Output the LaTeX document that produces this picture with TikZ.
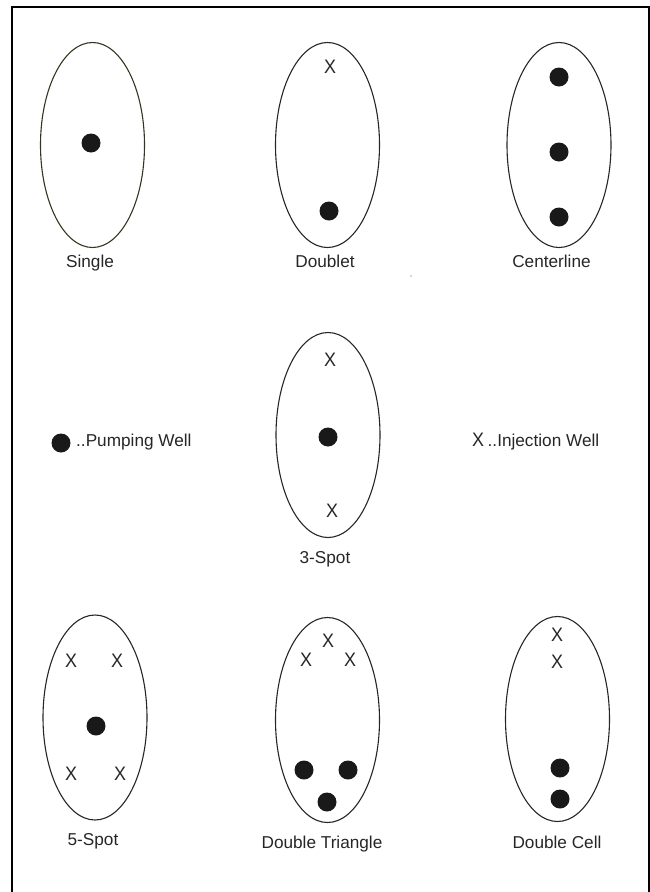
\documentclass[tikz,border=0pt]{standalone}
\usepackage{fontspec}
\setmainfont{Liberation Sans}
\newfontfamily\xmarkfont[FakeStretch=0.92]{Liberation Sans}
\usetikzlibrary{shapes.geometric}
\begin{document}
\begin{tikzpicture}[x=1pt,y=-1pt,
  field/.style={draw=black!85, line width=1.1pt, ellipse, minimum width=104pt, minimum height=205pt, inner sep=0pt},
  pump/.style={circle, fill=black!90, minimum size=19pt, inner sep=0pt},
  inj/.style={font=\xmarkfont\fontsize{19.5}{21}\selectfont, inner sep=0pt, text=black!85},
  lbl/.style={font=\fontsize{17.2}{19}\selectfont, inner sep=0pt, anchor=base, text=black!85}]
\useasboundingbox (0,0) rectangle (650,892);
\draw[line width=2pt] (12,892) -- (12,7) -- (649,7) -- (649,892);

% Row 1
\node[field, draw={rgb,255:red,55;green,52;blue,30}] (e1) at (92.5,145) {};
\node[pump] (s1) at (91,143) {};
\node[lbl] (l1) at (90,267) {Single};

\node[field] (e2) at (327.5,145) {};
\node[inj] (d1) at (330,67) {X};
\node[pump] (d2) at (329,211) {};
\node[lbl] (l2) at (325,267) {Doublet};

\node[field] (e3) at (559,145) {};
\node[pump] (c1) at (559,77) {};
\node[pump] (c2) at (559,152) {};
\node[pump] (c3) at (559,217) {};
\node[lbl] (l3) at (551.5,267) {Centerline};
\fill[black!70] (411,276) circle (0.7);

% Row 2
\node[pump] (kp) at (61,443) {};
\node[lbl, anchor=base west] (kpt) at (76,446) {..Pumping Well};
\node[inj] (kx) at (478,440) {X};
\node[lbl, anchor=base west] (kxt) at (487.5,446) {..Injection Well};

\node[field] (e4) at (328,435) {};
\node[inj] (t1) at (330,360) {X};
\node[pump] (t2) at (328,437) {};
\node[inj] (t3) at (332,511) {X};
\node[lbl] (l4) at (325,563) {3-Spot};

% Row 3
\node[field] (e5) at (95,717.5) {};
\node[inj] (f1) at (71,661) {X};
\node[inj] (f2) at (117,661) {X};
\node[pump] (f3) at (96,726) {};
\node[inj] (f4) at (71,774) {X};
\node[inj] (f5) at (120,774) {X};
\node[lbl] (l5) at (93,845) {5-Spot};

\node[field] (e6) at (327.5,720) {};
\node[inj] (g1) at (328,641) {X};
\node[inj] (g2) at (306,660) {X};
\node[inj] (g3) at (350,660) {X};
\node[pump] (g4) at (304,770) {};
\node[pump] (g5) at (348,770) {};
\node[pump] (g6) at (327,802) {};
\node[lbl] (l6) at (322,848) {Double Triangle};

\node[field] (e7) at (557.5,719) {};
\node[inj] (h1) at (557,635) {X};
\node[inj] (h2) at (557,662) {X};
\node[pump] (h3) at (560,768) {};
\node[pump] (h4) at (560,799) {};
\node[lbl] (l7) at (557,848) {Double Cell};
\end{tikzpicture}
\end{document}
